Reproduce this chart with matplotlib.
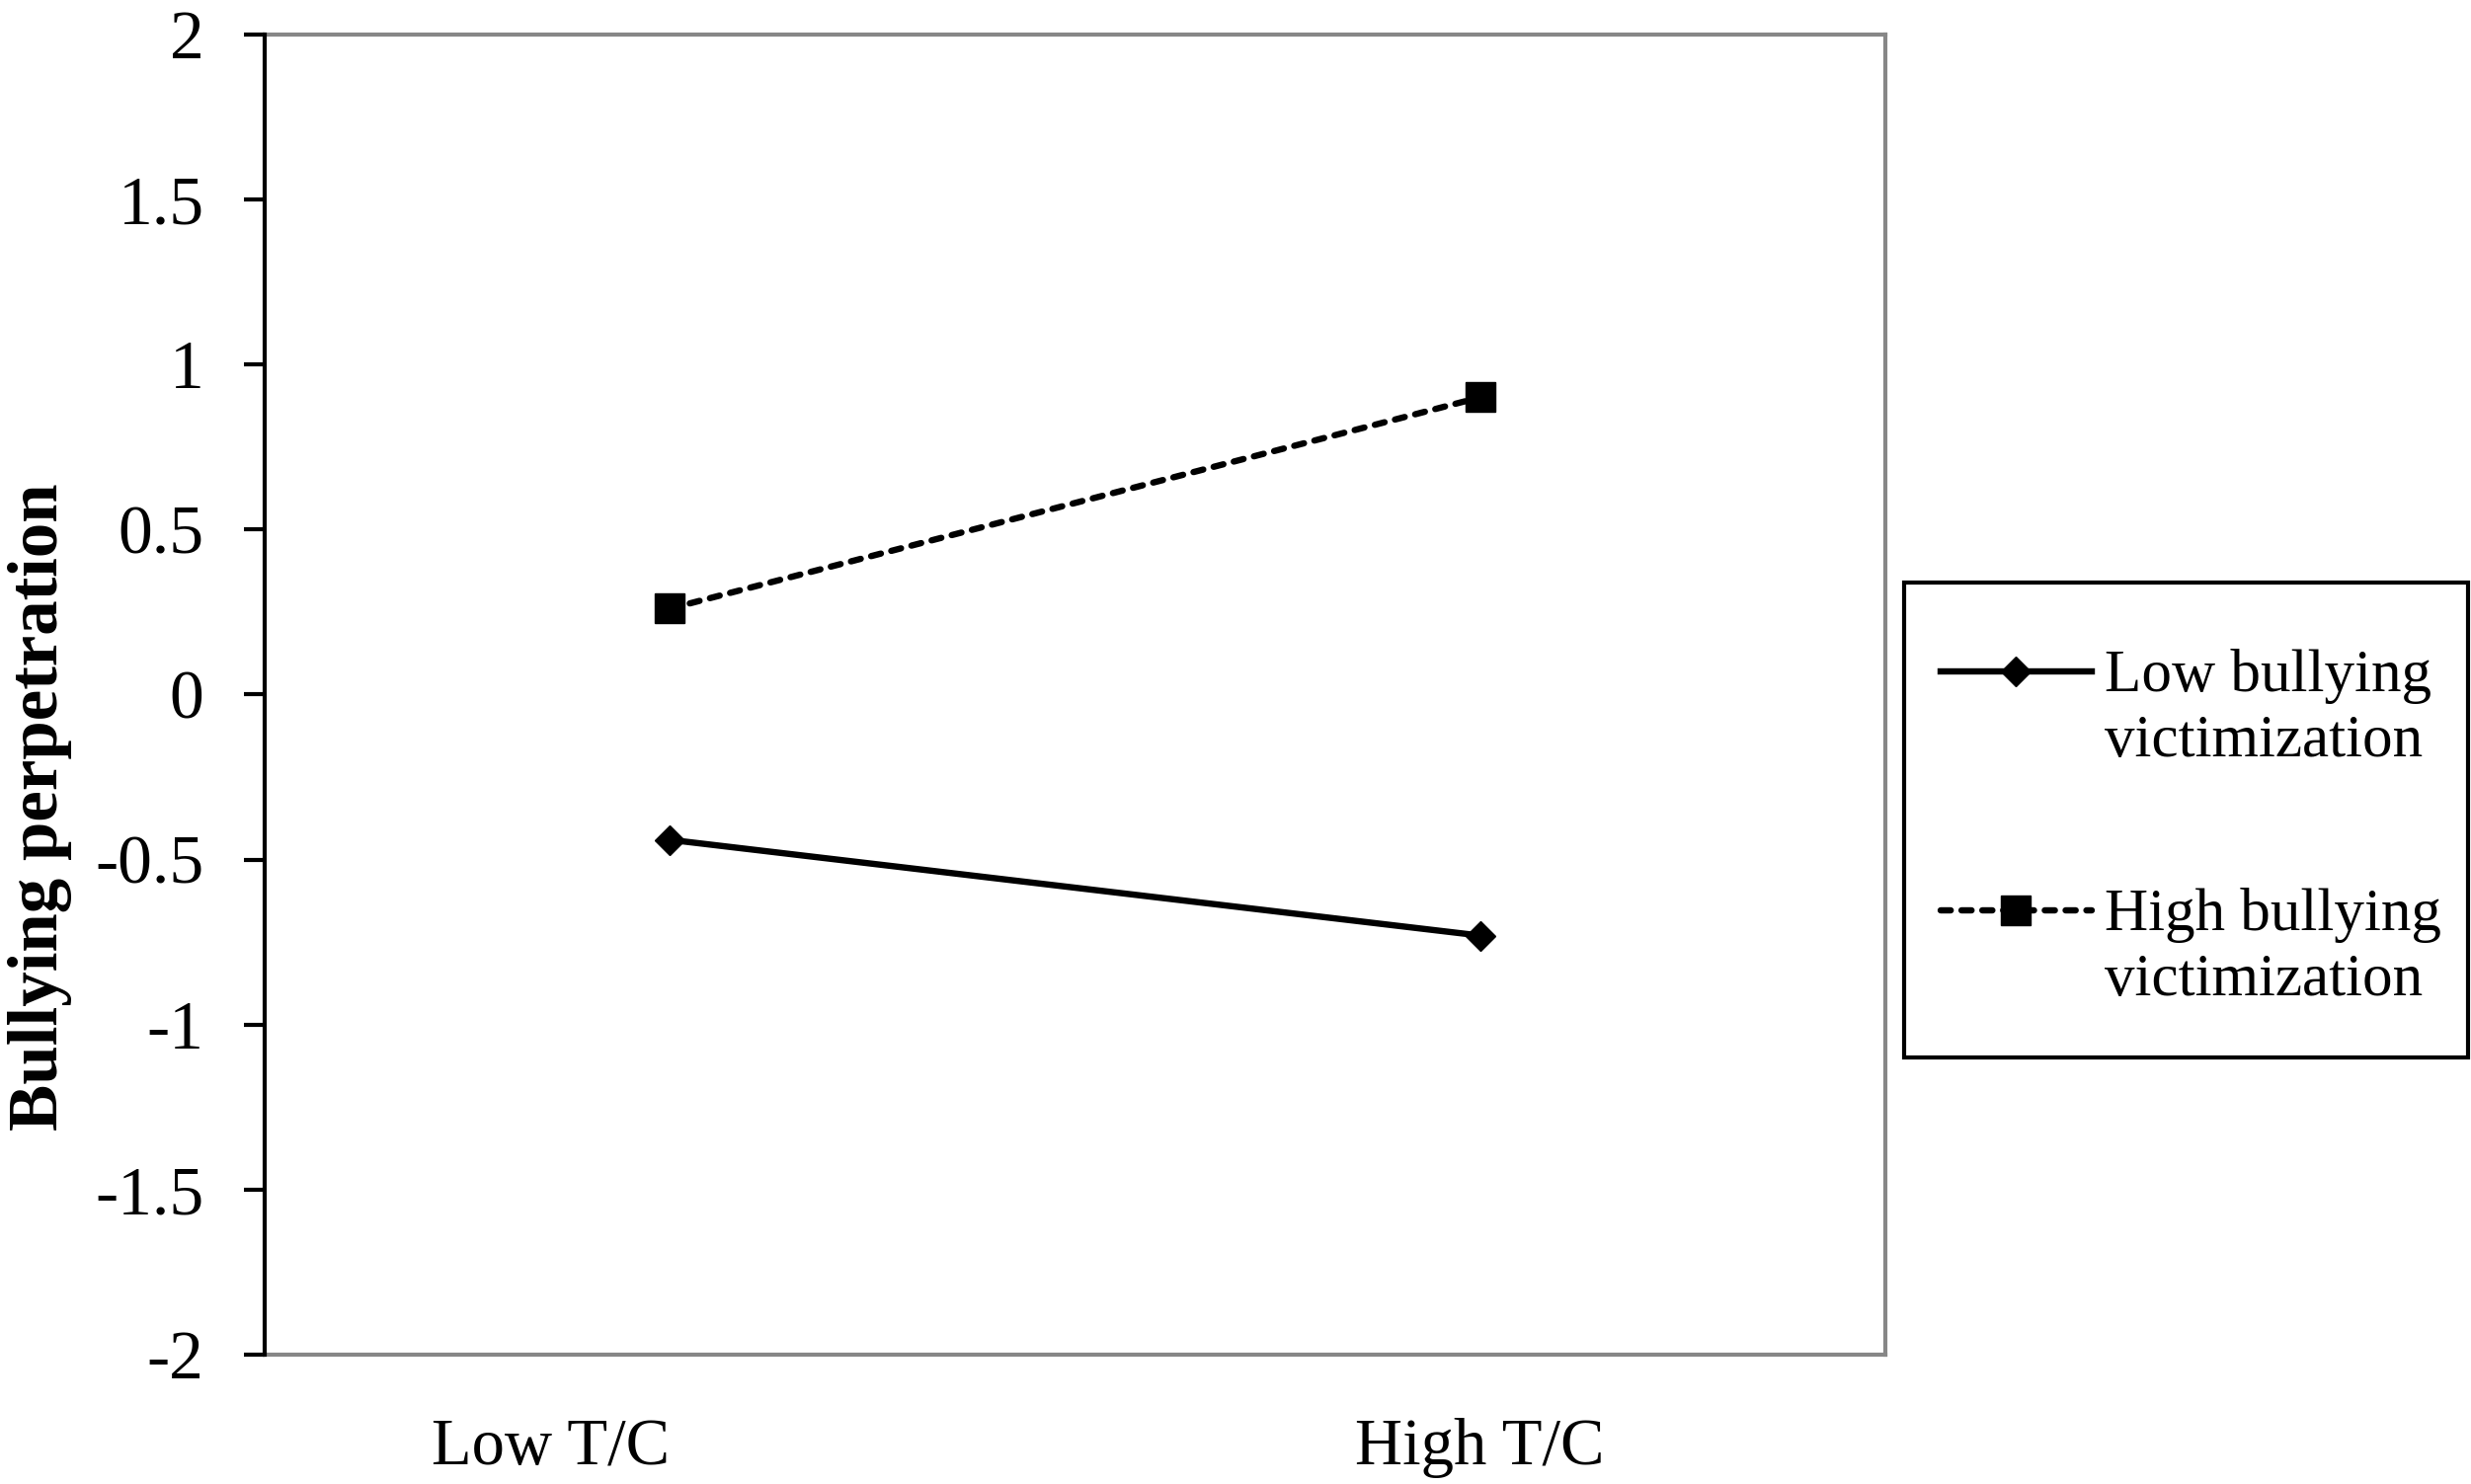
import matplotlib.pyplot as plt
from matplotlib.legend_handler import HandlerLine2D
from matplotlib.lines import Line2D
from matplotlib.patches import Rectangle
from matplotlib.transforms import ScaledTranslation

# values
categorias = ['Low T/C', 'High T/C']
baixa_vitimizacao = [-0.44, -0.73]
alta_vitimizacao = [0.26, 0.90]
rotulos_serie = ['Low bullying\nvictimization', 'High bullying\nvictimization']
ticks_y = [-2, -1.5, -1, -0.5, 0, 0.5, 1, 1.5, 2]

plt.rcParams['font.family'] = ['Liberation Serif', 'DejaVu Serif']

TAM_LEGENDA = 44


class HandlerPrimeiraLinha(HandlerLine2D):
    # puts the legend line next to the first text line, like Excel does
    def create_artists(self, legend, orig_handle, xdescent, ydescent, width, height, fontsize, trans):
        artistas = super().create_artists(legend, orig_handle, xdescent, ydescent, width, height, fontsize, trans)
        for artista in artistas:
            if isinstance(artista, Line2D):
                artista.set_ydata([y + 0.62 * fontsize for y in artista.get_ydata()])
        return artistas


fig = plt.figure(figsize=[25.02, 15.03], dpi=100)
ax = fig.add_axes([0.107, 0.087, 0.656, 0.890])

x = list(range(len(categorias)))
linha_baixa, = ax.plot(x, baixa_vitimizacao, color='black', linewidth=4.6, linestyle='-',
                       marker='D', markersize=15, label=rotulos_serie[0])
linha_alta, = ax.plot(x, alta_vitimizacao, color='black', linewidth=4.6, linestyle=(0, (1.6, 1.7)),
                      dash_capstyle='round', marker='s', markersize=21, label=rotulos_serie[1])

ax.set_xlim(-0.5, 1.5)
ax.set_ylim(-2, 2)
ax.set_yticks(ticks_y)
ax.set_yticklabels([('%g' % t) for t in ticks_y])
ax.set_xticks(x)
ax.set_xticklabels(categorias)

ax.tick_params(axis='y', direction='out', length=15, width=3, pad=29, labelsize=50, color='black')
ax.tick_params(axis='x', length=0, pad=46, labelsize=48)

# first category label sits left of its point in the original
rotulo0 = ax.get_xticklabels()[0]
rotulo0.set_transform(rotulo0.get_transform() + ScaledTranslation(-1.2, 0, fig.dpi_scale_trans))

for lado in ['top', 'right', 'bottom']:
    ax.spines[lado].set_color('#878787')
    ax.spines[lado].set_linewidth(3)
ax.spines['left'].set_color('black')
ax.spines['left'].set_linewidth(3)
ax.spines['left'].set_zorder(5)

ax.set_ylabel('Bullying perpetration', fontsize=51, fontweight='bold')
ax.yaxis.set_label_coords(-0.1187, 0.415)

# legend frame drawn on its own so its box can be taller than the entries need
fig.patches.append(Rectangle((0.7706, 0.2874), 0.2282, 0.3200, transform=fig.transFigure,
                             facecolor='white', edgecolor='black', linewidth=3, zorder=1))

leg = fig.legend(handles=[linha_baixa, linha_alta], loc='upper left', bbox_to_anchor=(0.7854, 0.5630),
                 fontsize=TAM_LEGENDA, frameon=False, handlelength=2.5, handletextpad=0.21,
                 labelspacing=1.96, borderpad=0, borderaxespad=0,
                 handler_map={Line2D: HandlerPrimeiraLinha()})
leg.set_zorder(2)
for texto in leg.get_texts():
    texto.set_linespacing(1.25)

plt.savefig('out.png', format='PNG', dpi=100)
